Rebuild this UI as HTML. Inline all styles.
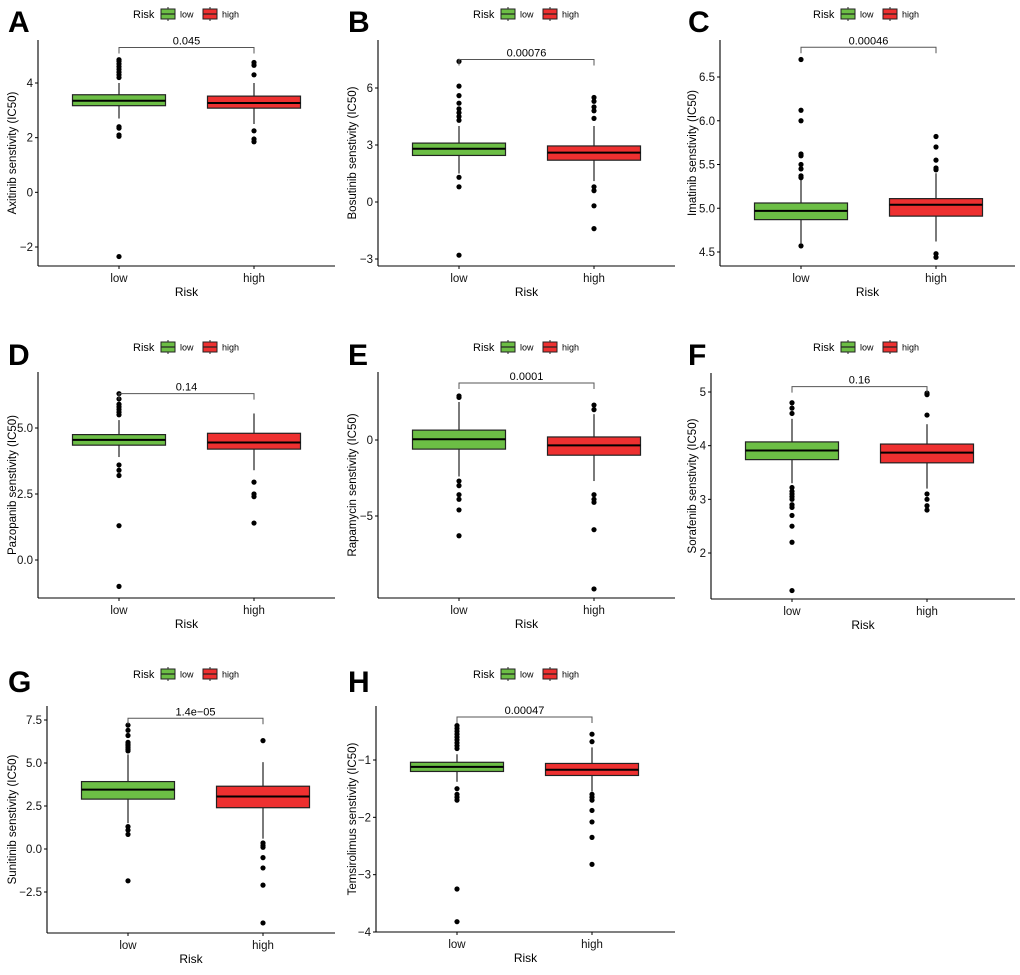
<!DOCTYPE html>
<html><head><meta charset="utf-8"><style>
body{margin:0;background:#fff;}
svg text{font-family:"Liberation Sans",Arial,sans-serif;}
</style></head><body>
<svg id="chart" width="1020" height="970" xmlns="http://www.w3.org/2000/svg"></svg>
<script>
// ---- data ----
const panelLetters = ["A","B","C","D","E","F","G","H"];
const drugNames = ["Axitinib","Bosutinib","Imatinib","Pazopanib","Rapamycin","Sorafenib","Sunitinib","Temsirolimus"];
const pValues = ["0.045","0.00076","0.00046","0.14","0.0001","0.16","1.4e\u221205","0.00047"];
const categories = ["low","high"];
// box stats: [q1, median, q3, whiskerLow, whiskerHigh]
const lowBoxes = [
 [3.17,3.35,3.57,2.7,4.0],[2.45,2.8,3.1,1.5,4.0],[4.87,4.97,5.06,4.6,5.33],[4.35,4.55,4.75,3.9,5.3],
 [-0.6,0.05,0.65,-2.4,2.5],[3.74,3.91,4.07,3.3,4.5],[2.9,3.45,3.92,1.5,5.5],[-1.2,-1.12,-1.04,-1.38,-0.9]];
const highBoxes = [
 [3.08,3.27,3.52,2.5,4.0],[2.2,2.6,2.95,1.1,4.0],[4.91,5.04,5.11,4.62,5.4],[4.2,4.45,4.8,3.4,5.55],
 [-1.0,-0.35,0.2,-2.7,1.7],[3.68,3.87,4.03,3.2,4.4],[2.4,3.05,3.65,0.6,5.05],[-1.27,-1.17,-1.06,-1.55,-0.78]];
const lowOutliers = [
 [4.2,4.3,4.4,4.5,4.6,4.7,4.8,4.85,2.4,2.35,2.1,2.05,-2.35],
 [4.3,4.5,4.7,4.9,5.2,5.6,6.1,7.4,1.3,0.8,-2.8],
 [5.35,5.37,5.45,5.5,5.6,5.62,6.0,6.12,6.7,4.57],
 [5.5,5.6,5.7,5.8,5.9,6.1,6.3,3.6,3.4,3.2,1.3,-1.0],
 [2.8,2.9,-2.7,-3.0,-3.6,-3.9,-4.6,-6.3],
 [4.6,4.7,4.8,3.22,3.15,3.1,3.05,3.0,2.9,2.85,2.7,2.5,2.2,1.3],
 [5.7,5.8,5.9,6.0,6.1,6.2,6.6,6.9,7.2,1.3,1.1,0.85,-1.85],
 [-0.4,-0.45,-0.5,-0.55,-0.6,-0.65,-0.7,-0.75,-0.8,-1.5,-1.6,-1.65,-1.7,-3.25,-3.82]];
const highOutliers = [
 [4.75,4.65,4.3,2.25,1.95,1.85],
 [4.4,4.8,5.0,5.3,5.5,0.8,0.6,-0.2,-1.4],
 [5.44,5.46,5.55,5.7,5.82,4.48,4.44],
 [2.95,2.5,2.4,1.4],
 [2.0,2.3,-3.6,-3.9,-4.1,-5.9,-9.8],
 [4.57,4.95,4.98,3.1,3.0,2.88,2.8],
 [6.3,0.35,0.2,0.1,-0.5,-1.1,-2.1,-4.3],
 [-0.55,-0.68,-1.6,-1.65,-1.7,-1.88,-2.08,-2.35,-2.82]];
const bracketValues = [5.3,7.5,6.84,6.3,3.75,5.1,7.6,-0.25];
const tickValues = [[-2,0,2,4],[-3,0,3,6],[4.5,5.0,5.5,6.0,6.5],[0,2.5,5],[-5,0],[2,3,4,5],[-2.5,0,2.5,5,7.5],[-4,-3,-2,-1]];
const tickLabels = [["-2","0","2","4"],["-3","0","3","6"],["4.5","5.0","5.5","6.0","6.5"],["0.0","2.5","5.0"],["-5","0"],["2","3","4","5"],["-2.5","0.0","2.5","5.0","7.5"],["-4","-3","-2","-1"]];

// ---- layout (pixels) ----
const layout = [
 {ax:38,top:40,bot:266,v1:4,p1:83,v2:-2,p2:247,ox:0,oy:0},
 {ax:378,top:40,bot:266,v1:6,p1:88,v2:-3,p2:259,ox:340,oy:0},
 {ax:720,top:40,bot:266,v1:6.5,p1:77,v2:4.5,p2:252,ox:680,oy:0},
 {ax:38,top:372,bot:598,v1:5,p1:428,v2:0,p2:560,ox:0,oy:333},
 {ax:378,top:372,bot:598,v1:0,p1:440,v2:-5,p2:516,ox:340,oy:333},
 {ax:711,top:373,bot:599,v1:5,p1:392,v2:2,p2:553,ox:680,oy:333},
 {ax:47,top:706,bot:933,v1:7.5,p1:720,v2:0,p2:849,ox:0,oy:660},
 {ax:376,top:706,bot:932,v1:-1,p1:760,v2:-4,p2:932,ox:340,oy:660}];
const colors = ["#6CBE45","#EE3030"];
const NS="http://www.w3.org/2000/svg";
const svg=document.getElementById('chart');
function mk(tag,attrs,parent,text){const e=document.createElementNS(NS,tag);for(const k in attrs)e.setAttribute(k,attrs[k]);if(text!==undefined)e.textContent=text;(parent||svg).appendChild(e);return e;}

for(let i=0;i<8;i++){
 const L=layout[i];
 const y=v=>L.p1+(v-L.v1)*(L.p2-L.p1)/(L.v2-L.v1);
 const right=L.ox+335;
 const xc=[L.ax+81,L.ax+216];
 const bw=93;
 const g=mk('g',{});
 
 
 const t=mk('text',{x:L.ox+8,y:L.oy+32,'font-size':30,'font-weight':'bold'},g,panelLetters[i]);
 
 // legend
 const lg=mk('g',{},g);
 
 const ly=L.oy+14, lx=L.ox+133;
 mk('text',{x:lx,y:ly+4,'font-size':11},lg,'Risk');
 for(let k=0;k<2;k++){
  const bx=lx+28+k*42;
  const e=mk('g',{},lg);
  
  mk('line',{x1:bx+7,x2:bx+7,y1:ly-7,y2:ly+7,stroke:'#222','stroke-width':1},e);
  mk('rect',{x:bx,y:ly-5,width:14,height:10,fill:colors[k],stroke:'#222','stroke-width':1},e);
  mk('line',{x1:bx,x2:bx+14,y1:ly,y2:ly,stroke:'#222','stroke-width':1.2},e);
  mk('text',{x:bx+19,y:ly+3.5,'font-size':9},e,categories[k]);
 }
 // axes
 const axes=mk('g',{},g);
 
 mk('line',{x1:L.ax,x2:L.ax,y1:L.top,y2:L.bot,stroke:'#000','stroke-width':1.1},axes);
 mk('line',{x1:L.ax,x2:right,y1:L.bot,y2:L.bot,stroke:'#000','stroke-width':1.1},axes);
 tickValues[i].forEach((v,j)=>{
  const yy=y(v);
  mk('line',{x1:L.ax-3,x2:L.ax,y1:yy,y2:yy,stroke:'#000'},axes);
  const tl=mk('text',{x:L.ax-5,y:yy+4,'font-size':11.5,'text-anchor':'end',fill:'#111'},axes,tickLabels[i][j].replace('-','\u2212'));
  
 });
 categories.forEach((c,k)=>{
  mk('line',{x1:xc[k],x2:xc[k],y1:L.bot,y2:L.bot+3,stroke:'#000'},axes);
  const xl=mk('text',{x:xc[k],y:L.bot+16,'font-size':11.5,'text-anchor':'middle',fill:'#111'},axes,c);
  
 });
 const xt=mk('text',{x:(L.ax+right)/2,y:L.bot+30,'font-size':12,'text-anchor':'middle'},g,'Risk');
 
 const ym=(L.top+L.bot)/2;
 const tx=L.ox+16;
 const yt=mk('text',{x:tx,y:ym,'font-size':11.5,'text-anchor':'middle',transform:`rotate(-90 ${tx} ${ym})`},g,drugNames[i]+' senstivity (IC50)');
 
 // boxes
 const boxes=[lowBoxes[i],highBoxes[i]], outs=[lowOutliers[i],highOutliers[i]];
 for(let k=0;k<2;k++){
  const b=boxes[k], bg=mk('g',{},g);
  
  mk('line',{x1:xc[k],x2:xc[k],y1:y(b[3]),y2:y(b[4]),stroke:'#222','stroke-width':1.2},bg);
  mk('rect',{x:xc[k]-bw/2,y:y(b[2]),width:bw,height:y(b[0])-y(b[2]),fill:colors[k],stroke:'#222','stroke-width':1.2},bg);
  mk('line',{x1:xc[k]-bw/2,x2:xc[k]+bw/2,y1:y(b[1]),y2:y(b[1]),stroke:'#000','stroke-width':2},bg);
  outs[k].forEach(v=>{
   const p=mk('circle',{cx:xc[k],cy:y(v),r:2.6,fill:'#000'},bg);
   
  });
 }
 // bracket
 const by=y(bracketValues[i]);
 const br=mk('g',{},g);
 
 mk('path',{d:`M${xc[0]},${by+6}V${by}H${xc[1]}V${by+6}`,fill:'none',stroke:'#555','stroke-width':1},br);
 mk('text',{x:(xc[0]+xc[1])/2,y:by-3,'font-size':11,'text-anchor':'middle'},br,pValues[i]);
}
</script>
</body></html>
